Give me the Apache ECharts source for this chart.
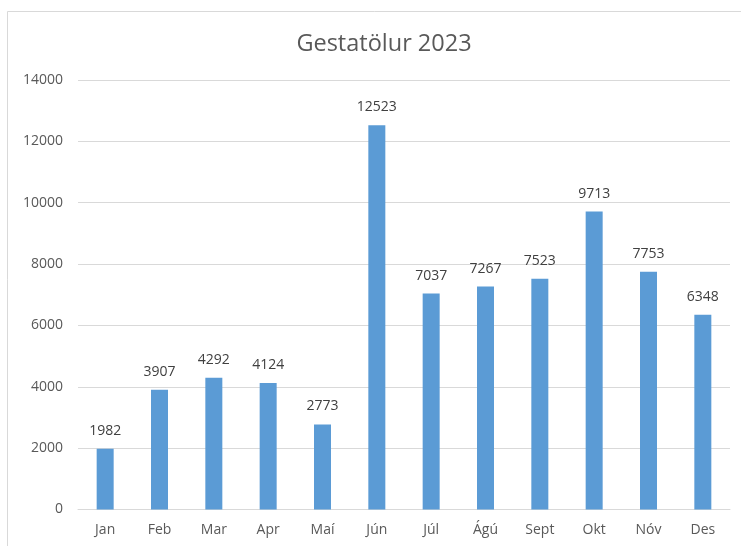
<!DOCTYPE html>
<html><head><meta charset="utf-8">
<script src="https://cdn.jsdelivr.net/npm/echarts@6/dist/echarts.min.js"></script>
<style>html,body{margin:0;padding:0;background:#fff}#c{width:741px;height:546px}</style>
</head><body><div id="c"></div>
<script>
const categories = ["Jan","Feb","Mar","Apr","Maí","Jún","Júl","Ágú","Sept","Okt","Nóv","Des"];
const values = [1982,3907,4292,4124,2773,12523,7037,7267,7523,9713,7753,6348];
const titleText = "Gestatölur 2023";

const chart = echarts.init(document.getElementById('c'));
const font = "'Open Sans', 'Noto Sans', sans-serif";
chart.setOption({
  animation: false,
  backgroundColor: '#fff',
  textStyle: { fontFamily: font },
  graphic: [{
    type: 'rect', shape: { x: 7.5, y: 11.5, width: 800, height: 600 },
    style: { fill: 'none', stroke: '#d9d9d9', lineWidth: 1 }, silent: true, z: -1
  }],
  title: {
    text: titleText, left: 379, top: 27, textAlign: 'center',
    textStyle: { fontSize: 23.5, fontWeight: 'normal', color: '#595959', fontFamily: font }
  },
  grid: { left: 78, right: 11, top: 80, bottom: 36.5, containLabel: false },
  xAxis: {
    type: 'category', data: categories,
    axisLine: { lineStyle: { color: '#d9d9d9' } },
    axisTick: { show: false },
    axisLabel: { color: '#595959', fontSize: 14, margin: 14, fontFamily: font }
  },
  yAxis: {
    type: 'value', min: 0, max: 14000, interval: 2000,
    axisLine: { show: false }, axisTick: { show: false },
    splitLine: { lineStyle: { color: '#d9d9d9' } },
    axisLabel: { color: '#595959', fontSize: 14, margin: 15, fontFamily: font, formatter: v => String(v) }
  },
  series: [{
    type: 'bar', data: values, barWidth: 17,
    itemStyle: { color: '#5b9bd5' },
    label: { show: true, position: 'top', distance: 11, color: '#404040', fontSize: 14, fontFamily: font }
  }]
});
</script></body></html>
